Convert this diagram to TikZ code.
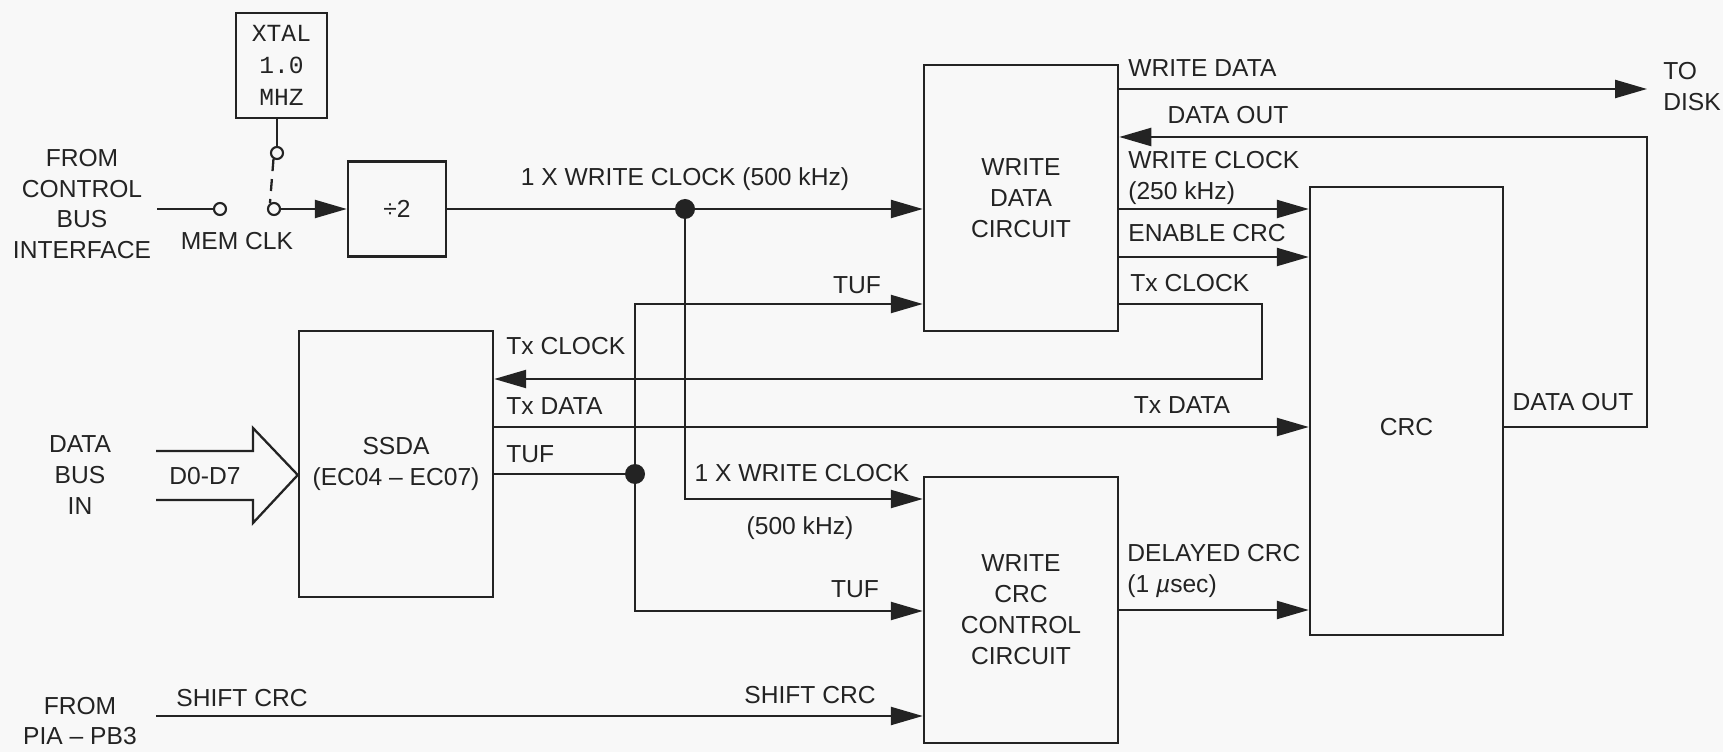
\documentclass[tikz,border=0pt]{standalone}
\usepackage{fontspec}
\setmainfont{Liberation Sans}
\setmonofont{Liberation Mono}
\usetikzlibrary{arrows.meta, positioning}
\definecolor{paper}{RGB}{248,248,248}
\definecolor{ink}{RGB}{35,35,35}

\begin{document}
\begin{tikzpicture}[x=0.2mm, y=-0.2mm,
    every node/.style={font=\fontsize{14}{17.6}\selectfont, text=ink},
    block/.style={draw=ink, line width=1.4pt, inner sep=0pt, align=center},
    unit/.style={block, minimum width=38.8mm, minimum height=53.2mm},
    sig/.style={draw=ink, line width=1.3pt, -{Triangle[length=6.4mm, width=3.6mm]}},
    wire/.style={draw=ink, line width=1.3pt},
    lbl/.style={inner sep=0pt, align=center},
    pin/.style={circle, draw=ink, line width=1.2pt, fill=paper, minimum size=2.4mm, inner sep=0pt},
    jdot/.style={circle, fill=ink, minimum size=4mm, inner sep=0pt}
]
\path[use as bounding box, fill=paper] (0,0) rectangle (1723,752);

% Crystal and divider
\node[block, font=\ttfamily\fontsize{14}{18.4}\selectfont, minimum width=18.2mm, minimum height=21mm] (xtal) at (281.5,65.5) {XTAL\\1.0\\MHZ};
\node[block, minimum width=19.6mm, minimum height=19mm] (div2) at (397,209) {÷2};

% Clock select switch
\coordinate (memin) at (157,209);
\node[pin] (swa) at (220,209) {};
\node[pin] (swb) at (274,209) {};
\node[pin] (swc) at (277,153) {};
\draw[wire] (memin) -- (swa);
\draw[wire] (xtal.south -| swc) -- (swc);
\draw[wire, dash pattern=on 2.4mm off 1.6mm] (swc.240) -- (swb.125);
\draw[sig] (swb) -- (div2);

\node[lbl] (frombus) at (82,204) {FROM\\CONTROL\\BUS\\INTERFACE};
\node[lbl] (memclk) at (237,241) {MEM CLK};

% Main blocks
\node[unit] (wdc) at (1021,198) {WRITE\\DATA\\CIRCUIT};
\node[unit] (ssda) at (396,464) {SSDA\\(EC04 -- EC07)};
\node[unit] (wcrc) at (1021,610) {WRITE\\CRC\\CONTROL\\CIRCUIT};
\node[block, minimum width=38.6mm, minimum height=89.6mm] (crc) at (1406.5,411) {};
\node[lbl] (crclbl) at (crc.center |- 0,427) {CRC};

% 1 X write clock
\draw[sig] (div2) -- (div2 -| wdc.west);
\node[lbl] (clklbl) at (685,179) {1 X WRITE CLOCK (500 kHz)};
\node[jdot] (clkdot) at (685,209) {};
\draw[sig] (clkdot) |- (wcrc.west |- 0,499);
\node[lbl] (clklblb) at (802,473) {1 X WRITE CLOCK};
\node[lbl] (clkkhz) at (800,528) {(500 kHz)};

% Write data to disk and data out loop
\coordinate (diskout) at (1647,89);
\draw[sig] (wdc.east |- diskout) -- (diskout);
\node[lbl, anchor=west] (wdlbl) at (1128,68) {WRITE DATA};
\node[lbl, anchor=west, align=left] (disk) at (1663,86.5) {TO\\DISK};
\draw[sig] (crc.east |- 0,427) -| (diskout |- 0,137) -- (wdc.east |- 0,137);
\node[lbl] (doutlbl) at (1228,115) {DATA OUT};
\node[lbl] (doutlblb) at (1573,402) {DATA OUT};

% Write data circuit to CRC
\draw[sig] (wdc.east |- 0,209) -- (crc.west |- 0,209);
\node[lbl, anchor=west, align=left] (wclbl) at (1128,177.5) {WRITE CLOCK\\(250 kHz)};
\draw[sig] (wdc.east |- 0,257) -- (crc.west |- 0,257);
\node[lbl, anchor=west] (enlbl) at (1128,233) {ENABLE CRC};

% Tx clock back to SSDA
\draw[sig] (wdc.east |- 0,304) -| (1262,379) -- (ssda.east |- 0,379);
\node[lbl, anchor=west] (txclbl) at (1130,283) {Tx CLOCK};
\node[lbl, anchor=west] (txclblb) at (506,346) {Tx CLOCK};

% Tx data
\draw[sig] (ssda.east |- 0,427) -- (crc.west |- 0,427);
\node[lbl, anchor=west] (txdlbl) at (506,406) {Tx DATA};
\node[lbl] (txdlblb) at (1182,405) {Tx DATA};

% TUF
\node[jdot] (tufdot) at (635,474) {};
\draw[wire] (ssda.east |- tufdot) -- (tufdot);
\draw[sig] (tufdot) |- (wdc.west |- 0,304);
\draw[sig] (tufdot) |- (wcrc.west |- 0,611);
\node[lbl, anchor=west] (tuflbl) at (506,454) {TUF};
\node[lbl] (tuflblb) at (857,285) {TUF};
\node[lbl] (tuflblc) at (855,589) {TUF};

% Delayed CRC
\draw[sig] (wcrc.east |- 0,610) -- (crc.west |- 0,610);
\node[lbl, anchor=west, align=left] (dellbl) at (1127,570.5) {DELAYED CRC\\(1 {\itshape µ}sec)};

% Shift CRC
\coordinate (pbin) at (156,716);
\draw[sig] (pbin) -- (pbin -| wcrc.west);
\node[lbl] (shlbl) at (242,698) {SHIFT CRC};
\node[lbl] (shlblb) at (810,695) {SHIFT CRC};
\node[lbl] (frompia) at (80,721) {FROM\\PIA -- PB3};

% Data bus
\draw[wire, line join=miter] (156,451) -- (253,451) -- (253,428) -- (ssda.west |- 0,475)
  -- (253,523) -- (253,500) -- (156,500);
\node[lbl] (databus) at (80,475) {DATA\\BUS\\IN};
\node[lbl] (dbits) at (205,476) {D0-D7};

\end{tikzpicture}
\end{document}
